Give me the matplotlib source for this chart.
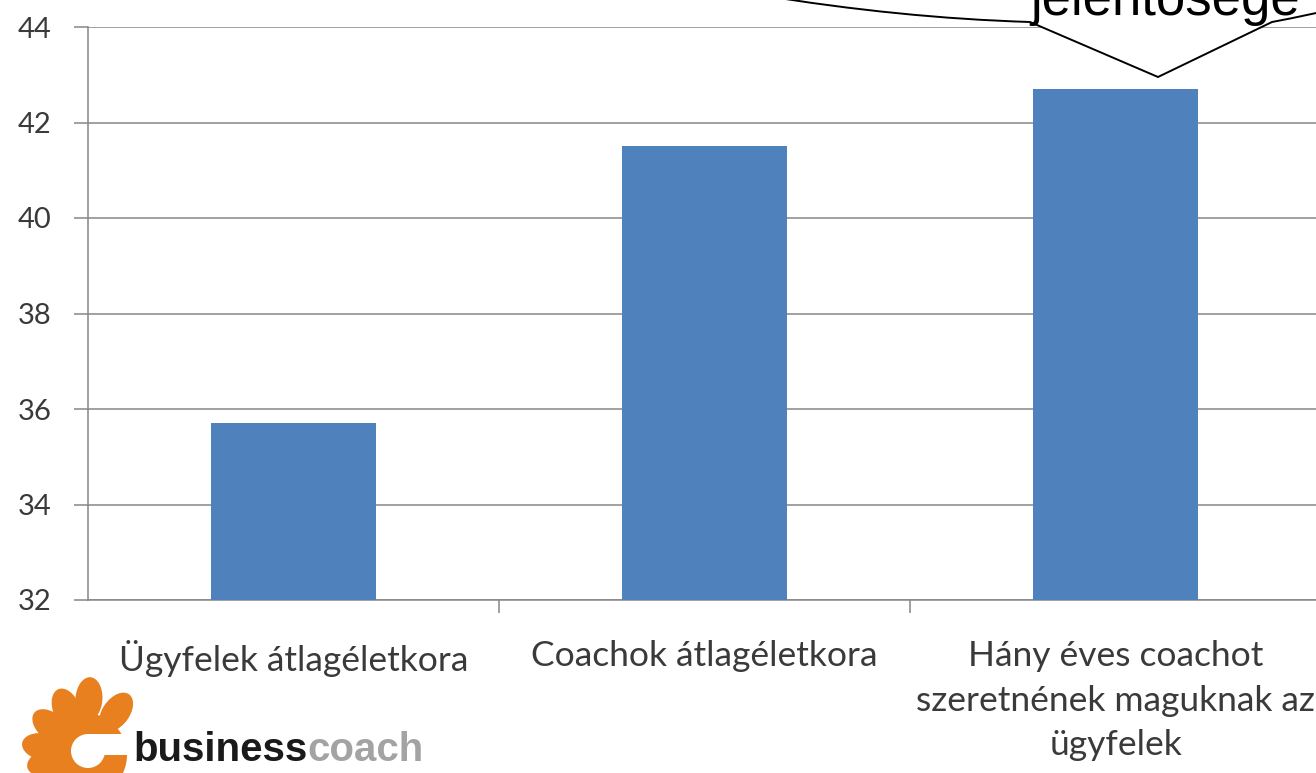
import numpy as np
import matplotlib
matplotlib.use("Agg")
import matplotlib.pyplot as plt
from matplotlib.patches import Ellipse, Circle, Rectangle, PathPatch
from matplotlib.path import Path

# Data
categories = ["Ügyfelek átlagéletkora",
              "Coachok átlagéletkora",
              "Hány éves coachot\nszeretnének maguknak az\nügyfelek"]
values = [35.7, 41.5, 42.7]
yticks = [32, 34, 36, 38, 40, 42, 44]

W, H = 1316, 773
fig = plt.figure(figsize=(W / 100, H / 100), dpi=100)

# main chart axes (right edge runs slightly past the figure, like the screenshot)
ax = fig.add_axes([88 / W, (H - 600) / H, 1233 / W, 573 / H])
x = np.arange(len(categories))
ax.bar(x, values, width=0.40, bottom=0, color="#4F81BD", zorder=3)
ax.set_xlim(-0.5, len(categories) - 0.5)
ax.set_ylim(yticks[0], yticks[-1])
ax.set_yticks(yticks)
ax.set_yticklabels([str(t) for t in yticks])
ax.yaxis.grid(True, color="#868686", linewidth=1.1, zorder=0)
ax.set_axisbelow(True)

for s in ["top", "right"]:
    ax.spines[s].set_visible(False)
for s in ["left", "bottom"]:
    ax.spines[s].set_color("#868686")
    ax.spines[s].set_linewidth(1.1)

ax.set_xticks(x)
ax.set_xticklabels(categories, fontfamily="Lato", fontsize=25.5, color="#3a3a3a",
                   linespacing=1.48)
ax.set_xticks(np.arange(0.5, len(categories)), minor=True)
ax.tick_params(axis="x", which="major", length=0, pad=29)
ax.tick_params(axis="x", which="minor", length=9, width=1.1, color="#868686")
ax.tick_params(axis="y", length=10, width=1.1, color="#868686", pad=16,
               labelsize=21, labelcolor="#3a3a3a")
for lab in ax.get_yticklabels():
    lab.set_fontfamily("Lato")

# overlay in pixel coordinates for the callout and the logo
ov = fig.add_axes([0, 0, 1, 1], zorder=10)
ov.set_xlim(0, W)
ov.set_ylim(H, 0)
ov.axis("off")
ov.patch.set_alpha(0)

# speech bubble (only its lower edge is inside the picture)
verts = [(760, -5), (900, 18), (1030, 22),
         (1158, 77), (1272, 22),
         (1300, 17), (1400, -5), (760, -5)]
codes = [Path.MOVETO, Path.CURVE3, Path.CURVE3,
         Path.LINETO, Path.LINETO,
         Path.CURVE3, Path.CURVE3, Path.CLOSEPOLY]
ov.add_patch(PathPatch(Path(verts, codes), facecolor="white", edgecolor="black",
                       linewidth=1.4))
ov.text(1030, 15, "jelentősége", fontfamily="Liberation Sans", fontsize=38,
        color="black", ha="left", va="baseline")

# businesscoach logo
orange = "#E8801F"
cx, cy = 85, 755
ov.add_patch(Circle((cx, cy), 42, color=orange, lw=0))
petals = [(54, 74), (86, 77), (112, 70), (140, 65), (169, 63), (192, 58)]
for a, tip in petals:
    r = np.radians(a)
    d = tip - 21
    ov.add_patch(Ellipse((cx + d * np.cos(r), cy - d * np.sin(r)), 44, 27,
                         angle=-a, color=orange, lw=0))
ov.add_patch(Circle((88, 751), 17, color="white", lw=0))
ov.add_patch(Rectangle((88, 734), 50, 21, color="white", lw=0))

t1 = ov.text(133, 769, "business", fontfamily="Liberation Sans", fontweight="bold",
             fontsize=29, color="#1a1a1a", ha="left", va="bottom")
ov.annotate("coach", xy=(1, 0), xycoords=t1, fontfamily="Liberation Sans",
            fontweight="bold", fontsize=29, color="#a3a3a3", ha="left", va="bottom")

fig.savefig("out.png", dpi=100)
